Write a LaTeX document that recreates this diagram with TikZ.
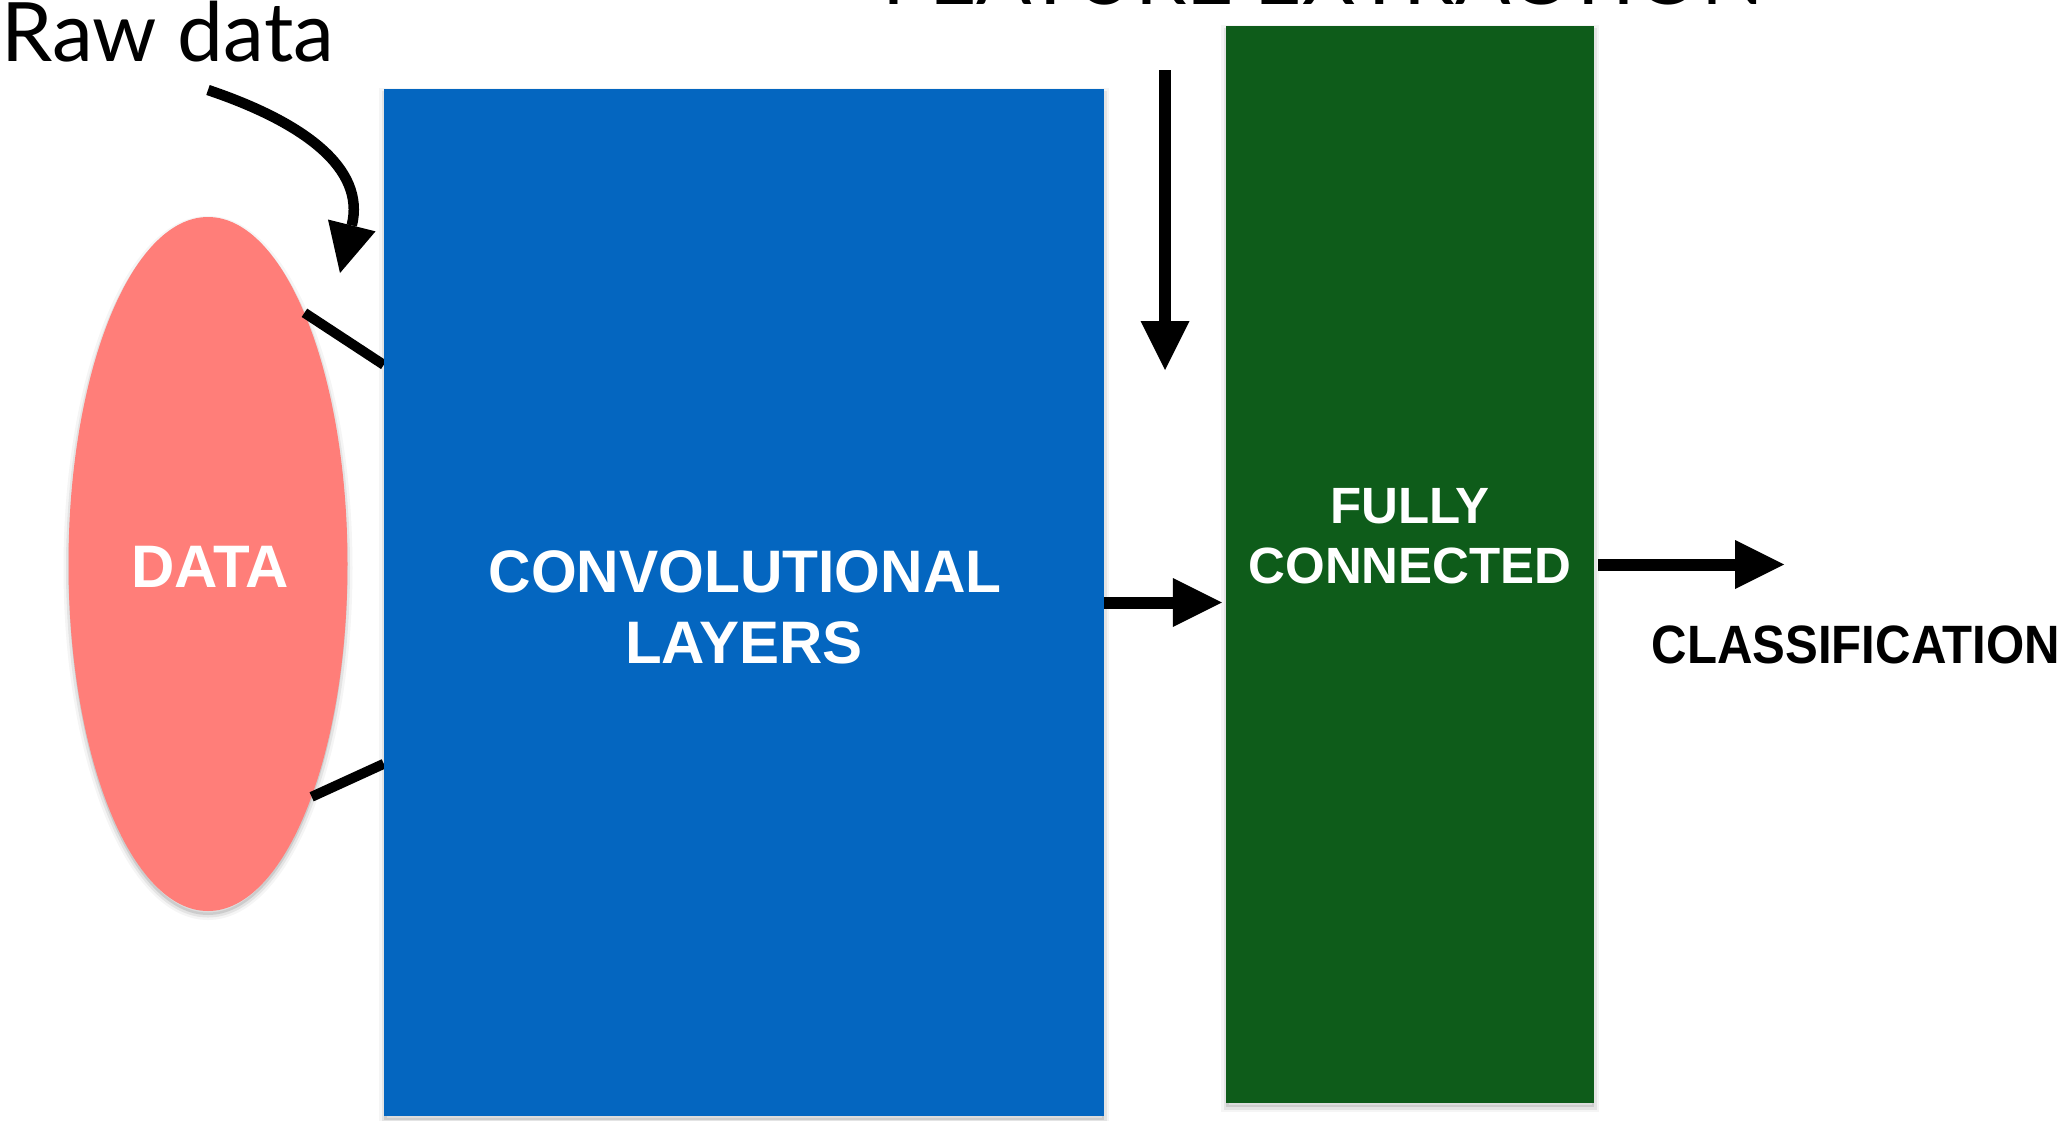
\documentclass[tikz,border=0pt]{standalone}
\usepackage{fontspec}
\setmainfont{Liberation Sans}
\newfontfamily\humanist{Lato}
\usetikzlibrary{arrows.meta,shapes.geometric,calc}

\definecolor{convblue}{HTML}{0466C0}
\definecolor{fcgreen}{HTML}{0E5C1A}
\definecolor{datasalmon}{HTML}{FF7E79}

\pgfdeclarelayer{back}
\pgfsetlayers{back,main}

\begin{document}
\begin{tikzpicture}[x=1pt,y=-1pt,
  softshadow/.style={
    preaction={draw=black, line width=10pt, draw opacity=.04,
               transform canvas={yshift=-4pt}},
    preaction={draw=black, line width=5pt, draw opacity=.07,
               fill=black, fill opacity=.10, transform canvas={yshift=-4pt}}},
  block/.style={rectangle, inner sep=0pt, softshadow},
  boxtext/.style={text=white, font=\bfseries\fontsize{60}{71}\selectfont,
                  inner sep=0pt, anchor=base},
  fctext/.style={boxtext, font=\bfseries\fontsize{51}{60}\selectfont},
  flow/.style={line width=12pt,
               -{Triangle[length=49pt,width=49pt,line width=0pt]}},
  link/.style={line width=10pt},
  caption/.style={font=\humanist\fontsize{82}{90}\selectfont, inner sep=0pt},
]
\useasboundingbox (0,0) rectangle (2064,1120);
\clip (0,0) rectangle (2064,1120);

% input data blob
\begin{pgfonlayer}{back}
  \node[ellipse, fill=datasalmon, minimum width=279pt, minimum height=694pt,
        inner sep=0pt, softshadow] (data) at (208,564) {};
\end{pgfonlayer}

% the two processing stages
\node[block, fill=convblue, minimum width=720pt, minimum height=1027pt] (conv) at (744,602.5) {};
\node[block, fill=fcgreen, minimum width=368pt, minimum height=1077pt] (fc) at (1410,564.5) {};

% data feeds the convolutional stage (behind the blue block)
\begin{pgfonlayer}{back}
  \draw[link] (data.69) -- ($(conv.north west)!0.2687!(conv.south west)$);
  \draw[link] (data.-66.5) -- ($(conv.north west)!0.657!(conv.south west)$);
\end{pgfonlayer}

% block labels
\node[boxtext] (datatxt) at (210,587) {DATA};
\node[boxtext] (convtxt1) at (745,592) {\scalebox{0.98}[1]{CONVOLUTIONAL}};
\node[boxtext] (convtxt2) at (744,663) {LAYERS};
\node[fctext] (fctxt1) at (1410,523) {FULLY};
\node[fctext] (fctxt2) at (1410,583) {CONNECTED};
\node[anchor=base, inner sep=0pt, font=\bfseries\fontsize{54}{60}\selectfont]
  (cls) at (1856,663) {\scalebox{0.91}[1]{CLASSIFICATION}};

% captions
\node[caption, anchor=base west] (raw) at (1,61) {Raw data};
\node[caption, anchor=base] (fe) at (1323,4) {FEATURE EXTRACTION};

% arrows
\coordinate (rawstart) at (208,90);
\coordinate (rawtip) at (340,273);
\draw[flow, line width=10.5pt] (rawstart) .. controls (303,122) and (366,168) .. (rawtip);

\coordinate (festart) at (1165,70);
\coordinate (fetip) at (1165,370);
\draw[flow] (festart) -- (fetip);

\draw[flow, shorten >=4pt] (conv.east) -- (fc.west |- conv.east);

\coordinate (clstip) at (1784,564.5);
\draw[flow, shorten <=4pt] (fc.east) -- (clstip);
\end{tikzpicture}
\end{document}
